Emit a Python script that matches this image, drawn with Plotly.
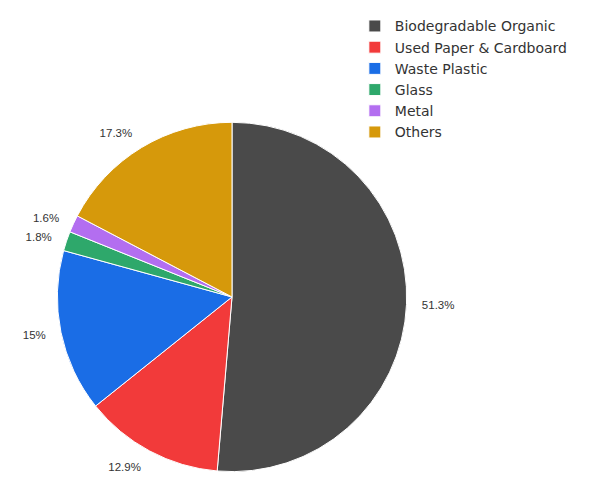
import plotly.graph_objects as go

labels = ["Biodegradable Organic", "Used Paper & Cardboard", "Waste Plastic", "Glass", "Metal", "Others"]
values = [51.3, 12.9, 15, 1.8, 1.6, 17.3]
colors = ["#4a4a4a", "#f23a3a", "#1a6de6", "#2ea86b", "#b36ef0", "#d6990b"]

W, H = 598, 481
cx, cy, r = 224, 292, 176.5    # pie centre / radius (px, in figure coords)
r_lab = 189                    # radius of the (invisible) label ring


def dom(radius):
    return dict(x=[(cx - radius) / W, (cx + radius) / W],
                y=[max(0, (H - cy - radius) / H), (H - cy + radius) / H])


fig = go.Figure()
fig.add_trace(go.Pie(
    labels=labels, values=values, sort=False, direction="clockwise", rotation=0,
    marker=dict(colors=colors, line=dict(color="#ffffff", width=1)),
    textinfo="none", hoverinfo="label+value",
    domain=dom(r), showlegend=True,
))
fig.add_trace(go.Pie(
    labels=labels, values=values, sort=False, direction="clockwise", rotation=0,
    marker=dict(colors=["rgba(0,0,0,0)"] * len(values), line=dict(width=0)),
    texttemplate="%{value}%", textposition="outside",
    textfont=dict(family="Liberation Sans", size=11.5, color="#333333"),
    hoverinfo="skip", domain=dom(r_lab), showlegend=False,
))

fig.update_layout(
    width=W, height=H,
    margin=dict(l=0, r=0, t=0, b=0),
    paper_bgcolor="white",
    plot_bgcolor="white",
    font=dict(family="DejaVu Sans", color="#333333"),
    legend=dict(x=0.58, y=0.995, xanchor="left", yanchor="top",
                font=dict(family="DejaVu Sans", size=14, color="#333333")),
)

fig.write_html("out.html")
